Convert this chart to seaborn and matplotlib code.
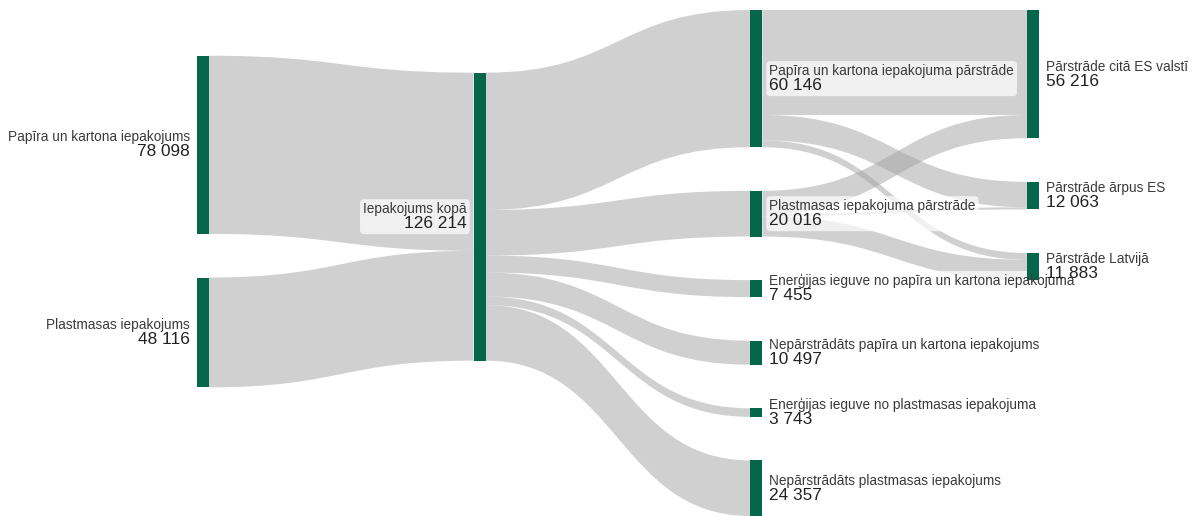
import numpy as np
import matplotlib.pyplot as plt
import seaborn as sns
from matplotlib.path import Path
from matplotlib.patches import PathPatch, Rectangle, FancyBboxPatch

# nodes (name, column)
node_names = [
    'Papīra un kartona iepakojums',
    'Plastmasas iepakojums',
    'Iepakojums kopā',
    'Papīra un kartona iepakojuma pārstrāde',
    'Plastmasas iepakojuma pārstrāde',
    'Enerģijas ieguve no papīra un kartona iepakojuma',
    'Nepārstrādāts papīra un kartona iepakojums',
    'Enerģijas ieguve no plastmasas iepakojuma',
    'Nepārstrādāts plastmasas iepakojums',
    'Pārstrāde citā ES valstī',
    'Pārstrāde ārpus ES',
    'Pārstrāde Latvijā',
]
node_column = [0, 0, 1, 2, 2, 2, 2, 2, 2, 3, 3, 3]

# links (source index, target index, value)
link_source = [0, 1, 2, 2, 2, 2, 2, 2, 3, 3, 3, 4, 4, 4]
link_target = [2, 2, 3, 4, 5, 6, 7, 8, 9, 10, 11, 9, 10, 11]
link_value = [78098, 48116, 60146, 20016, 7455, 10497, 3743, 24357,
              46000, 11146, 3000, 10216, 917, 8883]

# layout / style
W, H_PX = 1195, 516
col_x = np.linspace(197, 1027, 4)
node_w = 12
py = 43.6
ext0, ext1 = 10, 516
node_color = '#04674b'
link_color = '#a3a3a3'


def fmt(v):
    return f'{v:,}'.replace(',', ' ')


def sankey_layout(iterations=6):
    # d3-sankey style relaxation, node order kept as given
    n = len(node_names)
    links = list(zip(link_source, link_target, link_value))
    src_links = [[k for k, l in enumerate(links) if l[0] == i] for i in range(n)]
    tgt_links = [[k for k, l in enumerate(links) if l[1] == i] for i in range(n)]
    value = np.array([max(sum(links[k][2] for k in src_links[i]),
                          sum(links[k][2] for k in tgt_links[i])) for i in range(n)], float)
    cols = [[i for i in range(n) if node_column[i] == c] for c in range(max(node_column) + 1)]
    ky = min((ext1 - ext0 - (len(c) - 1) * py) / value[c].sum() for c in cols)
    width = np.array(link_value, float) * ky
    y0 = np.zeros(n)
    h = value * ky

    def reorder(i):
        src_links[i].sort(key=lambda k: y0[links[k][1]])
        tgt_links[i].sort(key=lambda k: y0[links[k][0]])

    for c in cols:
        y = ext0
        for i in c:
            y0[i] = y
            y = y + h[i] + py
        step = (ext1 - y + py) / (len(c) + 1)
        for k, i in enumerate(c):
            y0[i] += step * (k + 1)
    for i in range(n):
        reorder(i)

    def target_top(s, t):
        y = y0[s] - (len(src_links[s]) - 1) * py / 2
        for k in src_links[s]:
            if links[k][1] == t:
                break
            y += width[k] + py
        for k in tgt_links[t]:
            if links[k][0] == s:
                break
            y -= width[k]
        return y

    def source_top(s, t):
        y = y0[t] - (len(tgt_links[t]) - 1) * py / 2
        for k in tgt_links[t]:
            if links[k][0] == s:
                break
            y += width[k] + py
        for k in src_links[s]:
            if links[k][1] == t:
                break
            y -= width[k]
        return y

    def top_to_bottom(c, y, j, a):
        for i in c[j:]:
            d = (y - y0[i]) * a
            if d > 1e-6:
                y0[i] += d
            y = y0[i] + h[i] + py

    def bottom_to_top(c, y, j, a):
        for i in reversed(c[:j + 1]):
            d = (y0[i] + h[i] - y) * a
            if d > 1e-6:
                y0[i] -= d
            y = y0[i] - py

    def resolve(c, a):
        m = len(c) >> 1
        subj = c[m]
        bottom_to_top(c, y0[subj] - py, m - 1, a)
        top_to_bottom(c, y0[subj] + h[subj] + py, m + 1, a)
        bottom_to_top(c, ext1, len(c) - 1, a)
        top_to_bottom(c, ext0, 0, a)

    for it in range(iterations):
        alpha = 0.99 ** it
        beta = max(1 - alpha, (it + 1) / iterations)
        for c in reversed(cols[:-1]):
            for s in c:
                yy = ww = 0
                for k in src_links[s]:
                    t = links[k][1]
                    v = links[k][2] * (node_column[t] - node_column[s])
                    yy += source_top(s, t) * v
                    ww += v
                if ww > 0:
                    y0[s] += (yy / ww - y0[s]) * alpha
                    reorder(s)
            resolve(c, beta)
        for c in cols[1:]:
            for t in c:
                yy = ww = 0
                for k in tgt_links[t]:
                    s = links[k][0]
                    v = links[k][2] * (node_column[t] - node_column[s])
                    yy += target_top(s, t) * v
                    ww += v
                if ww > 0:
                    y0[t] += (yy / ww - y0[t]) * alpha
                    reorder(t)
            resolve(c, beta)

    for i in range(n):
        reorder(i)
    sy, ty = {}, {}
    for i in range(n):
        acc = 0
        for k in src_links[i]:
            sy[k] = acc
            acc += width[k]
        acc = 0
        for k in tgt_links[i]:
            ty[k] = acc
            acc += width[k]
    return y0, h, width, value, sy, ty


sns.set_theme(style='white')
plt.rcParams['font.family'] = ['Liberation Sans', 'DejaVu Sans']

fig = plt.figure(figsize=(W / 100, H_PX / 100), dpi=100)
ax = fig.add_axes([0, 0, 1, 1])
ax.set_xlim(0, W)
ax.set_ylim(H_PX, 0)
ax.axis('off')

y, dy, lw, value, sy, ty = sankey_layout()

# links
for k, (s, t, v) in enumerate(zip(link_source, link_target, link_value)):
    x0 = col_x[node_column[s]] + node_w
    x1 = col_x[node_column[t]]
    xm = (x0 + x1) / 2
    hh = lw[k]
    a = y[s] + sy[k]
    b = y[t] + ty[k]
    verts = [(x0, a), (xm, a), (xm, b), (x1, b),
             (x1, b + hh), (xm, b + hh), (xm, a + hh), (x0, a + hh), (x0, a)]
    codes = [Path.MOVETO, Path.CURVE4, Path.CURVE4, Path.CURVE4,
             Path.LINETO, Path.CURVE4, Path.CURVE4, Path.CURVE4, Path.CLOSEPOLY]
    ax.add_patch(PathPatch(Path(verts, codes), facecolor=link_color,
                           edgecolor='none', alpha=0.5, zorder=1))

# nodes
for i in range(len(node_names)):
    ax.add_patch(Rectangle((col_x[node_column[i]], y[i]), node_w, dy[i],
                           facecolor=node_color, edgecolor='none', zorder=3))

# labels
renderer = fig.canvas.get_renderer()
inv = ax.transData.inverted()
for i, name in enumerate(node_names):
    c = node_column[i]
    cy = y[i] + dy[i] / 2
    if c < 2:
        tx, ha = col_x[c] - 7, 'right'
    else:
        tx, ha = col_x[c] + node_w + 7, 'left'
    t1 = ax.text(tx, cy - 7.5, name, ha=ha, va='center', fontsize=9.8,
                 color='#3a3a3a', zorder=4)
    t2 = ax.text(tx, cy + 7, fmt(int(value[i])), ha=ha, va='center',
                 fontsize=12.4, color='#222222', zorder=4)
    bb1 = t1.get_window_extent(renderer)
    bb2 = t2.get_window_extent(renderer)
    (bx0, by0), (bx1, by1) = inv.transform([(min(bb1.x0, bb2.x0), min(bb1.y0, bb2.y0)),
                                            (max(bb1.x1, bb2.x1), max(bb1.y1, bb2.y1))])
    ax.add_patch(FancyBboxPatch((bx0, min(by0, by1)), bx1 - bx0, abs(by1 - by0),
                                boxstyle='round,pad=3,rounding_size=4',
                                facecolor='white', edgecolor='none', alpha=0.7,
                                zorder=2))

fig.savefig('out.png', dpi=100)
